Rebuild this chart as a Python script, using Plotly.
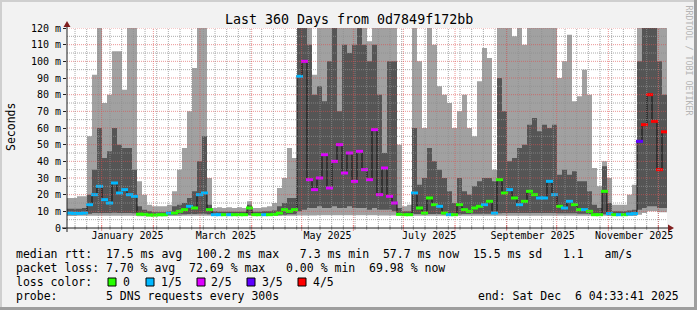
import plotly.graph_objects as go
from datetime import datetime, timedelta

# ---------------- data (3-day consolidation steps) ----------------
START = datetime(2024, 12, 11, 4, 33, 41)
END = datetime(2025, 12, 6, 4, 33, 41)
STEP_DAYS = 3

outer_max = [18, 18, 19, 19, 55, 92, 120, 75, 80, 106, 106, 83, 120, 120, 28, 20, 14, 13, 13, 13,
             14, 22, 35, 48, 70, 96, 120, 120, 30, 12, 12.5, 12, 12.5, 12, 12.4, 12, 16, 12, 12, 12.5,
             13, 15, 24, 30, 48, 42, 120, 120, 120, 92, 120, 120, 120, 120, 120, 120, 120, 120, 120, 120,
             112, 120, 120, 120, 120, 120, 50, 13, 14, 120, 100, 60, 120, 110, 85, 80, 75, 60, 70, 80,
             60, 55, 88, 108, 102, 35, 120, 120, 120, 115, 120, 110, 120, 120, 120, 120, 120, 120, 90, 100,
             116, 76, 79, 95, 80, 36, 25, 40, 30, 14, 14, 14, 20, 26, 120, 120, 120, 120, 120, 120]
inner_max = [11.5, 11.5, 11.5, 12, 20, 35, 60, 42, 46, 60, 50, 48, 48, 35, 13, 11, 10, 9.5, 9.5, 9.5,
             10, 13, 14, 15, 18, 22, 40, 55, 14, 10, 9.8, 9.8, 9.8, 9.8, 9.8, 9.8, 14, 9.8, 9.8, 10,
             10, 10.5, 13, 15, 18, 18, 120, 120, 110, 80, 85, 76, 100, 120, 70, 110, 105, 110, 120, 110,
             100, 110, 80, 45, 100, 100, 12, 10, 10, 60, 26, 30, 48, 40, 35, 30, 22, 15, 30, 22,
             20, 25, 28, 30, 30, 28, 90, 70, 40, 42, 48, 50, 62, 66, 58, 62, 60, 62, 32, 35,
             32, 34, 28, 28, 22, 14, 12, 37, 15, 10, 10, 10, 10.5, 11, 100, 120, 120, 120, 100, 80]
median = [9, 8.8, 8.8, 9, 14, 20, 25, 17, 15, 27, 21, 23, 20, 19, 8.3, 8.2, 7.8, 7.8, 8, 8,
          9, 9, 10, 11, 13, 12, 20, 21, 11, 8, 8, 8, 8, 8, 8, 8, 12, 8, 8, 8,
          8, 8.2, 9, 11, 10, 11, 91, 100, 29, 23, 30, 44, 24, 40, 50, 33, 45, 28, 46, 35,
          29, 59, 20, 36, 19, 15, 8.2, 8, 8, 21, 12, 9, 18, 14, 13, 9, 8, 8, 14, 11,
          10, 12, 13, 14, 16, 9, 29, 21, 23, 18, 14, 16, 22, 20, 18, 18, 28, 20, 13, 12,
          16, 14, 11, 11, 10, 8, 8, 22, 8.6, 8, 8, 8, 8.4, 8.6, 52, 62, 80, 64, 35, 57.7]
inner_min = [8.2, 8.2, 8.2, 8.2, 8.6, 9, 9, 9, 9, 9.2, 9, 9, 9, 8.8, 8, 7.9, 7.6, 7.6, 7.8, 7.8,
             8, 8, 8.2, 8.2, 8.4, 8.4, 8.6, 8.6, 8.2, 7.8, 7.8, 7.8, 7.8, 7.8, 7.8, 7.8, 8, 7.8, 7.8, 7.8,
             7.8, 7.8, 7.9, 8, 8.2, 8.2, 10, 11, 12, 12, 13, 12, 12, 13, 12, 12, 13, 12, 12, 12,
             11, 12, 11, 11, 11, 10, 8, 7.8, 7.8, 8.4, 8.4, 8.2, 8.4, 8.4, 8.4, 8.2, 8, 7.9, 8.2, 8.4,
             8.4, 8.5, 8.5, 8.6, 8.6, 8.4, 8.8, 9, 9, 9, 9, 9, 9, 9, 9, 9, 9, 9, 8.8, 8.8,
             8.8, 8.8, 8.6, 8.6, 8.4, 8, 7.8, 8.2, 8, 7.8, 7.8, 7.8, 7.8, 7.9, 11, 12, 13, 13, 12, 12]
outer_min = [7.2, 7.2, 7.3, 7.3, 7.3, 7.3, 7.3, 7.4, 7.4, 7.4, 7.4, 7.4, 7.4, 7.3, 7.0, 7.0, 7.0, 7.0, 7.1, 7.1,
             7.2, 7.2, 7.2, 7.3, 7.3, 7.3, 7.3, 7.3, 7.3, 7.2, 7.2, 7.2, 7.2, 7.2, 7.2, 7.2, 7.3, 7.2, 7.2, 7.2,
             7.2, 7.2, 7.2, 7.3, 7.3, 7.3, 7.5, 7.5, 7.5, 7.5, 7.6, 7.6, 7.6, 7.6, 7.6, 7.6, 7.6, 7.6, 7.6, 7.6,
             7.6, 7.6, 7.5, 7.5, 7.5, 7.5, 7.3, 7.2, 7.2, 7.3, 7.3, 7.3, 7.3, 7.3, 7.3, 7.3, 7.3, 7.2, 7.3, 7.3,
             7.3, 7.3, 7.3, 7.4, 7.4, 7.3, 7.4, 7.4, 7.4, 7.4, 7.4, 7.4, 7.4, 7.4, 7.4, 7.4, 7.4, 7.4, 7.4, 7.4,
             7.4, 7.4, 7.4, 7.4, 7.3, 7.2, 7.2, 7.3, 7.2, 7.2, 7.2, 7.2, 7.2, 7.2, 8, 9, 10, 10, 9.5, 9.5]
loss = [1, 1, 1, 1, 1, 1, 1, 1, 1, 1, 1, 1, 1, 1, 0, 0, 0, 0, 0, 0,
        1, 0, 0, 0, 1, 0, 1, 1, 0, 1, 1, 0, 1, 0, 0, 0, 0, 0, 0, 1,
        0, 0, 0, 0, 0, 0, 1, 2, 2, 2, 2, 2, 2, 2, 2, 2, 2, 2, 2, 2,
        2, 2, 2, 2, 2, 2, 0, 0, 0, 1, 0, 0, 0, 0, 1, 0, 1, 0, 0, 0,
        0, 0, 0, 1, 0, 1, 0, 0, 1, 0, 1, 0, 0, 0, 1, 1, 1, 1, 0, 1,
        1, 0, 0, 1, 0, 0, 0, 0, 1, 0, 1, 0, 1, 1, 3, 4, 4, 4, 4, 4]

loss_colors = ["#26ff00", "#00b8ff", "#dd00ff", "#5e00ff", "#ff0000"]
loss_labels = ["0", "1/5", "2/5", "3/5", "4/5"]

y_ticks = list(range(0, 121, 10))
y_ticktext = ["0"] + [f"{v} m" for v in y_ticks[1:]]
x_label_dates = [datetime(2025, m, 16, 12) for m in (1, 3, 5, 7, 9, 11)]
x_label_text = ["January 2025", "March 2025", "May 2025", "July 2025", "September 2025", "November 2025"]

title_text = "Last 360 Days from 0d7849f172bb"
legend_rows = [
    [(16, "median rtt:  17.5 ms avg  100.2 ms max   7.3 ms min  57.7 ms now  15.5 ms sd   1.1   am/s")],
    [(16, "packet loss: 7.70 % avg  72.69 % max   0.00 % min  69.98 % now")],
    [(16, "loss color:")],
    [(16, "probe:       5 DNS requests every 300s"),
     (478, "end: Sat Dec  6 04:33:41 2025")],
]
legend_box_x = [108, 146, 197, 247, 298]
legend_label_x = [123, 161, 211, 262, 313]

# ---------------- styling ----------------
W, H = 697, 310
L, R, T, B = 67, 30, 28, 82
PW, PH = W - L - R, H - T - B
MONO = "DejaVu Sans Mono"
OUTER = "#a1a1a1"
INNER = "#555555"
GRID = "rgba(143,143,143,0.75)"
MGRID = "rgba(222,79,79,0.6)"
ARROW = "#801f1f"
AXIS = "#1f1f1f"


def xp(px):
    return (px - L) / PW


def yp(py):
    return (T + PH - py) / PH


n = len(median)
edges = [START + timedelta(days=STEP_DAYS * k) for k in range(n + 1)]
centers = [START + timedelta(days=STEP_DAYS * k + STEP_DAYS / 2) for k in range(n)]


def step(v):
    return list(v) + [v[-1]]


fig = go.Figure()
for lo, hi, col in ((outer_min, outer_max, OUTER), (inner_min, inner_max, INNER)):
    fig.add_trace(go.Scatter(x=edges, y=step(lo), mode="lines", line=dict(width=0, shape="hv"),
                             hoverinfo="skip", showlegend=False))
    fig.add_trace(go.Scatter(x=edges, y=step(hi), mode="lines", line=dict(width=0, shape="hv"),
                             fill="tonexty", fillcolor=col, hoverinfo="skip", showlegend=False))

cx, cy = [], []
for k in range(n - 1):
    cx += [edges[k + 1], edges[k + 1], None]
    cy += [median[k], median[k + 1], None]
fig.add_trace(go.Scatter(x=cx, y=cy, mode="lines", line=dict(color="#111111", width=1),
                         hoverinfo="skip", showlegend=False))
fig.add_trace(go.Scatter(x=centers, y=median, mode="markers", showlegend=False,
                         marker=dict(symbol="line-ew", size=5,
                                     line=dict(width=3, color=[loss_colors[l] for l in loss]))))

shapes = []
dash = "1px,1px"
# horizontal grid
for v in range(5, 121, 5):
    shapes.append(dict(type="line", xref="paper", yref="y", x0=0, x1=1, y0=v, y1=v, layer="above",
                       line=dict(color=MGRID if v % 10 == 0 else GRID, width=1, dash=dash)))
# vertical grid: weeks (Mondays) and months
d = datetime(2024, 12, 16)
while d < END:
    shapes.append(dict(type="line", xref="x", yref="paper", x0=d, x1=d, y0=0, y1=1, layer="above",
                       line=dict(color=GRID, width=1, dash=dash)))
    shapes.append(dict(type="line", xref="x", yref="paper", x0=d, x1=d, y0=yp(230), y1=yp(226),
                       layer="above", line=dict(color=GRID, width=1)))
    d += timedelta(days=7)
for m_ in range(1, 13):
    d = datetime(2025, m_, 1)
    shapes.append(dict(type="line", xref="x", yref="paper", x0=d, x1=d, y0=0, y1=1, layer="above",
                       line=dict(color=MGRID, width=1, dash=dash)))
    shapes.append(dict(type="line", xref="x", yref="paper", x0=d, x1=d, y0=yp(231), y1=yp(225),
                       layer="above", line=dict(color=MGRID, width=1)))
# axes with arrows
shapes.append(dict(type="line", xref="paper", yref="paper", x0=xp(62), x1=xp(669), y0=0, y1=0,
                   layer="above", line=dict(color=AXIS, width=1)))
shapes.append(dict(type="line", xref="paper", yref="paper", x0=0, x1=0, y0=yp(232), y1=yp(25),
                   layer="above", line=dict(color=AXIS, width=1)))
shapes.append(dict(type="path", xref="paper", yref="paper", layer="above",
                   path=f"M {xp(668)} {yp(224.5)} L {xp(674)} {yp(228)} L {xp(668)} {yp(231.5)} Z",
                   fillcolor=ARROW, line=dict(width=0)))
shapes.append(dict(type="path", xref="paper", yref="paper", layer="above",
                   path=f"M {xp(63.5)} {yp(27)} L {xp(67)} {yp(21)} L {xp(70.5)} {yp(27)} Z",
                   fillcolor=ARROW, line=dict(width=0)))
# frame
shapes.append(dict(type="rect", xref="paper", yref="paper", x0=xp(0), x1=xp(2), y0=yp(310), y1=yp(0),
                   fillcolor="#cfcfcf", line=dict(width=0), layer="above"))
shapes.append(dict(type="rect", xref="paper", yref="paper", x0=xp(0), x1=xp(697), y0=yp(2), y1=yp(0),
                   fillcolor="#cfcfcf", line=dict(width=0), layer="above"))
shapes.append(dict(type="rect", xref="paper", yref="paper", x0=xp(694), x1=xp(697), y0=yp(310), y1=yp(0),
                   fillcolor="#9e9e9e", line=dict(width=0), layer="above"))
shapes.append(dict(type="rect", xref="paper", yref="paper", x0=xp(0), x1=xp(697), y0=yp(310), y1=yp(307),
                   fillcolor="#9e9e9e", line=dict(width=0), layer="above"))
# legend colour boxes
for bx, col in zip(legend_box_x, loss_colors):
    shapes.append(dict(type="rect", xref="paper", yref="paper", x0=xp(bx), x1=xp(bx + 8),
                       y0=yp(286), y1=yp(278), fillcolor=col, line=dict(color="#000000", width=1),
                       layer="above"))

ann = []
ann.append(dict(text=title_text, xref="paper", yref="paper", x=xp(348.5), y=yp(19), showarrow=False,
                xanchor="center", yanchor="middle", font=dict(family=MONO, size=13.3, color="#000")))
ann.append(dict(text="Seconds", xref="paper", yref="paper", x=xp(11), y=yp(127), showarrow=False,
                textangle=-90, xanchor="center", yanchor="middle",
                font=dict(family=MONO, size=11.5, color="#000")))
ann.append(dict(text="RRDTOOL / TOBI OETIKER", xref="paper", yref="paper", x=xp(688.5), y=yp(60),
                showarrow=False, textangle=90, xanchor="center", yanchor="middle",
                font=dict(family=MONO, size=8.3, color="#b5b5b5")))
row_y = [254, 268, 282, 296]
for ry, row in zip(row_y, legend_rows):
    for px, txt in row:
        ann.append(dict(text=txt.replace(" ", "\u00a0"), xref="paper", yref="paper", x=xp(px), y=yp(ry),
                        showarrow=False, xanchor="left", yanchor="middle", borderpad=0, borderwidth=0,
                        font=dict(family=MONO, size=11.5, color="#000")))
for lx, lab in zip(legend_label_x, loss_labels):
    ann.append(dict(text=lab, xref="paper", yref="paper", x=xp(lx), y=yp(282), showarrow=False,
                    xanchor="left", yanchor="middle", borderpad=0, borderwidth=0,
                    font=dict(family=MONO, size=11.5, color="#000")))

fig.update_layout(
    width=W, height=H, margin=dict(l=L, r=R, t=T, b=B, pad=0),
    paper_bgcolor="#f2f2f2", plot_bgcolor="#ffffff",
    shapes=shapes, annotations=ann, showlegend=False,
    xaxis=dict(type="date", range=[START, END], showgrid=False, zeroline=False, showline=False,
               tickmode="array", tickvals=x_label_dates, ticktext=x_label_text, ticks="",
               tickfont=dict(family=MONO, size=10, color="#000"), fixedrange=True),
    yaxis=dict(range=[0, 120], showgrid=False, zeroline=False, showline=False,
               tickmode="array", tickvals=y_ticks, ticktext=y_ticktext, ticks="outside", ticklen=3,
               tickcolor=AXIS, tickfont=dict(family=MONO, size=10, color="#000"), fixedrange=True),
)
fig.write_html("out.html")
